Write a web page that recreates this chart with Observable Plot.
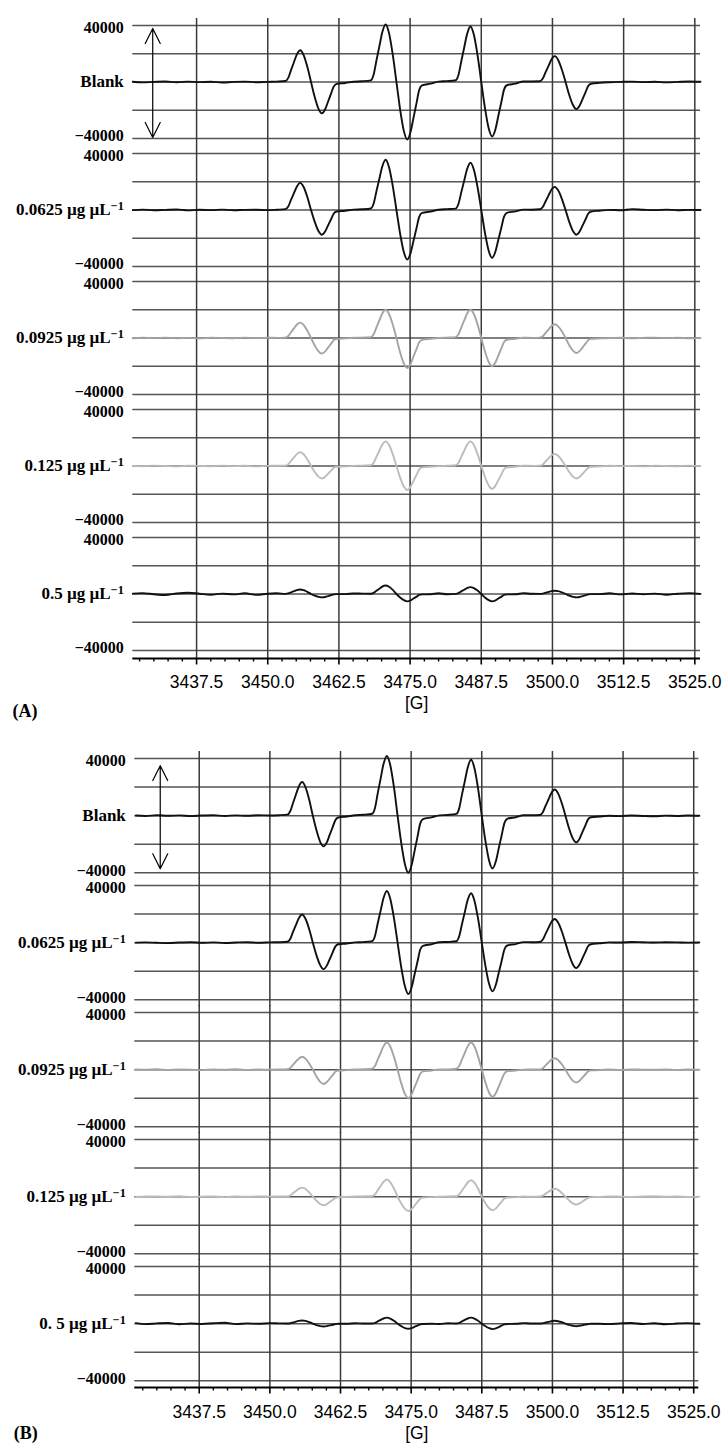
<!DOCTYPE html>
<html>
<head>
<meta charset="utf-8">
<script src="https://cdn.jsdelivr.net/npm/d3@7"></script>
<script src="https://cdn.jsdelivr.net/npm/@observablehq/plot@0.6"></script>
<style>
  html, body { margin: 0; padding: 0; background: #fff; }
  #chart { width: 725px; }
  #chart svg { display: block; }
</style>
</head>
<body>
<div id="chart"></div>
<script>
// ---------- magnetic field grid [G] (shared by all spectra) ----------
const field = [
  3426.3, 3428, 3430, 3432, 3434, 3436, 3438, 3440, 3442, 3444, 3446, 3448, 3450,
  3451.6, 3453.1, 3453.6, 3454.1, 3454.6, 3455.1, 3455.7, 3456.3, 3456.95, 3457.6, 3458.25, 3458.9, 3459.5, 3460.1, 3460.6, 3461.1, 3461.6, 3462.1, 3463.6,
  3465.1,
  3466.6, 3468.1, 3468.6, 3469.1, 3469.6, 3470.1, 3470.7, 3471.3, 3471.95, 3472.6, 3473.25, 3473.9, 3474.5, 3475.1, 3475.6, 3476.1, 3476.6, 3477.1, 3478.6,
  3480,
  3481.5, 3483, 3483.5, 3484, 3484.5, 3485, 3485.6, 3486.2, 3486.85, 3487.5, 3488.15, 3488.8, 3489.4, 3490, 3490.5, 3491, 3491.5, 3492, 3493.5,
  3494.9,
  3496.3, 3497.8, 3498.3, 3498.8, 3499.3, 3499.8, 3500.4, 3501, 3501.65, 3502.3, 3502.95, 3503.6, 3504.2, 3504.8, 3505.3, 3505.8, 3506.3, 3506.8, 3508.3,
  3510, 3512, 3514, 3516, 3518, 3520, 3522, 3524, 3526
];

// ---------- panel (A) intensities ----------
const blankA = [
  200, -300, 100, 400, -200, 300, -100, 200, -400, 100, 300, -200, 100,
  300, 700, 2900, 8600, 14000, 19400, 22500, 19100, 10800, 0, -10700, -18900, -22200, -19100, -13800, -8400, -3100, -1300, -700,
  200,
  500, 1200, 5300, 15500, 25200, 35000, 40700, 34600, 19500, 0, -19500, -34600, -40700, -35000, -25200, -15500, -5700, -2400, -1200,
  300,
  600, 1200, 5100, 14900, 24400, 33800, 39300, 33400, 18900, 0, -18500, -32800, -38600, -33200, -23900, -14700, -5400, -2300, -1200,
  400,
  400, 500, 2400, 7000, 11300, 15700, 18300, 15600, 8800, 0, -9200, -16300, -19200, -16500, -11900, -7300, -2700, -1200, -600,
  -200, 100, 300, -100, 200, -300, 100, 400, 200
];
const c0625A = [
  -100, 300, -200, 100, 400, -300, 200, -100, 300, -200, 100, 200, -100,
  200, 600, 2500, 7300, 11900, 16500, 19200, 16300, 9200, 0, -8400, -14900, -17500, -15100, -10900, -6700, -2500, -1100, -500,
  300,
  500, 1100, 4600, 13500, 22100, 30600, 35600, 30300, 17100, 0, -16800, -29800, -35100, -30200, -21800, -13300, -4900, -2100, -1100,
  200,
  600, 1000, 4400, 12700, 20800, 28800, 33500, 28500, 16100, 0, -16300, -28800, -33900, -29200, -21000, -12900, -4700, -2000, -1000,
  300,
  200, 500, 2100, 6200, 10200, 14100, 16400, 13900, 7900, 0, -8400, -14900, -17500, -15100, -10900, -6700, -2500, -1100, -500,
  100, -200, 600, 200, -100, 300, -200, 100, 0
];
const c0925A = [
  -300, 200, -100, 300, -200, 100, -300, 200, 0, -200, 300, -100, 200,
  100, 300, 1400, 4100, 6800, 9400, 10900, 9300, 5200, 0, -5300, -9400, -11000, -9500, -6800, -4200, -1500, -700, -300,
  200,
  300, 600, 2600, 7600, 12400, 17200, 20000, 17000, 9600, 0, -10200, -18000, -21200, -18200, -13100, -8100, -3000, -1300, -600,
  0,
  300, 600, 2600, 7600, 12400, 17200, 20000, 17000, 9600, 0, -9600, -17000, -20000, -17200, -12400, -7600, -2800, -1200, -600,
  200,
  100, 300, 1300, 3700, 6000, 8300, 9700, 8200, 4700, 0, -5100, -9000, -10600, -9100, -6600, -4000, -1500, -600, -300,
  -100, 200, -200, 100, 300, -100, 200, -200, 100
];
const c125A = [
  100, -200, 300, 0, -300, 200, 100, -200, 300, -100, 200, -300, 100,
  200, 300, 1300, 3700, 6100, 8400, 9800, 8300, 4700, 0, -4200, -7500, -8800, -7600, -5500, -3300, -1200, -500, -300,
  100,
  300, 500, 2300, 6600, 10800, 15000, 17400, 14800, 8400, 0, -8200, -14500, -17000, -14600, -10500, -6500, -2400, -1000, -500,
  -100,
  200, 500, 2300, 6600, 10800, 15000, 17400, 14800, 8400, 0, -7800, -13800, -16200, -13900, -10000, -6200, -2300, -1000, -500,
  200,
  100, 300, 1100, 3300, 5300, 7400, 8600, 7300, 4100, 0, -4200, -7500, -8800, -7600, -5500, -3300, -1200, -500, -300,
  200, -100, 100, -300, 200, 0, -200, 300, -100
];
const c5A = [
  300, 600, -200, -700, 400, 900, 200, -500, 300, -300, 500, -600, 200,
  500, 100, 400, 1200, 2000, 2800, 3200, 2700, 1500, 0, -1200, -2000, -2400, -2100, -1500, -900, -300, -100, -100,
  400,
  300, 200, 800, 2300, 3700, 5200, 6000, 5100, 2900, 0, -2500, -4400, -5200, -4500, -3200, -2000, -700, -300, -200,
  500,
  -200, 100, 600, 1900, 3000, 4200, 4900, 4200, 2400, 0, -2500, -4400, -5200, -4500, -3200, -2000, -700, -300, -200,
  600,
  200, 100, 300, 900, 1400, 2000, 2300, 2000, 1100, 0, -1200, -2000, -2400, -2100, -1500, -900, -300, -100, -100,
  500, -300, 400, -200, 300, -500, 200, 600, 100
];

// ---------- panel (B) intensities ----------
const blankB = [
  100, -200, 300, -100, 200, -300, 100, 300, -200, 200, -100, 300, 100,
  300, 700, 3100, 8900, 14600, 20200, 23500, 20000, 11300, 0, -10300, -18300, -21500, -18500, -13300, -8200, -3000, -1300, -600,
  300,
  600, 1300, 5400, 15900, 25900, 35900, 41800, 35500, 20100, 0, -19200, -34000, -40000, -34400, -24800, -15200, -5600, -2400, -1200,
  200,
  500, 1200, 5100, 14900, 24200, 33600, 39100, 33200, 18800, 0, -17800, -31500, -37000, -31800, -22900, -14100, -5200, -2200, -1100,
  300,
  300, 500, 2400, 7000, 11300, 15700, 18300, 15600, 8800, 0, -9000, -15900, -18700, -16100, -11600, -7100, -2600, -1100, -600,
  -100, -300, 100, -200, -400, 0, -200, 100, -100
];
const c0625B = [
  0, 200, -100, -300, 100, 300, -100, 200, -200, 100, 300, -100, 200,
  300, 600, 2600, 7500, 12200, 16900, 19700, 16700, 9500, 0, -8900, -15700, -18500, -15900, -11500, -7000, -2600, -1100, -600,
  200,
  400, 1100, 4700, 13800, 22400, 31100, 36200, 30800, 17400, 0, -17300, -30600, -36000, -31000, -22300, -13700, -5000, -2200, -1100,
  300,
  500, 1000, 4500, 13100, 21500, 29800, 34600, 29400, 16600, 0, -16400, -29000, -34100, -29300, -21100, -13000, -4800, -2000, -1000,
  400,
  300, 500, 2200, 6300, 10300, 14300, 16600, 14100, 8000, 0, -8500, -15100, -17800, -15300, -11000, -6800, -2500, -1100, -500,
  200, 100, 500, 300, 100, 300, 200, 0, 100
];
const c0925B = [
  200, -100, 300, -200, 100, 0, -300, 200, -100, 300, -200, 100, 0,
  100, 300, 1200, 3400, 5600, 7700, 9000, 7700, 4300, 0, -4800, -8500, -10000, -8600, -6200, -3800, -1400, -600, -300,
  100,
  300, 600, 2500, 7200, 11800, 16300, 19000, 16200, 9100, 0, -9600, -17000, -20000, -17200, -12400, -7600, -2800, -1200, -600,
  200,
  200, 600, 2500, 7200, 11800, 16300, 19000, 16200, 9100, 0, -9100, -16200, -19000, -16300, -11800, -7200, -2700, -1100, -600,
  0,
  100, 200, 1000, 3000, 5000, 6900, 8000, 6800, 3800, 0, -4300, -7700, -9000, -7700, -5600, -3400, -1300, -500, -300,
  100, -200, 200, 0, -100, 200, -200, 100, -100
];
const c125B = [
  -200, 100, 200, -100, 300, -200, 0, 200, -300, 100, -100, 200, 0,
  100, 200, 800, 2400, 3900, 5400, 6300, 5400, 3000, 0, -2900, -5100, -6000, -5200, -3700, -2300, -800, -400, -200,
  100,
  200, 400, 1600, 4600, 7400, 10300, 12000, 10200, 5800, 0, -4800, -8500, -10000, -8600, -6200, -3800, -1400, -600, -300,
  -100,
  200, 300, 1500, 4400, 7100, 9900, 11500, 9800, 5500, 0, -4600, -8100, -9500, -8200, -5900, -3600, -1300, -600, -300,
  100,
  0, 200, 700, 2100, 3400, 4700, 5500, 4700, 2600, 0, -2600, -4700, -5500, -4700, -3400, -2100, -800, -300, -200,
  200, 0, -200, 100, 300, -100, 100, -200, 0
];
const c5B = [
  400, -300, 200, 500, -400, 100, -200, 300, 600, -300, 200, -100, 400,
  200, 100, 300, 800, 1400, 1900, 2200, 1900, 1100, 0, -1000, -1700, -2000, -1700, -1200, -800, -300, -100, -100,
  300,
  100, 100, 500, 1600, 2600, 3600, 4200, 3600, 2000, 0, -1700, -3100, -3600, -3100, -2200, -1400, -500, -200, -100,
  -200,
  300, 100, 500, 1600, 2600, 3600, 4200, 3600, 2000, 0, -1800, -3200, -3800, -3300, -2400, -1400, -500, -200, -100,
  400,
  100, 100, 300, 800, 1200, 1700, 2000, 1700, 1000, 0, -900, -1500, -1800, -1500, -1100, -700, -300, -100, -100,
  -300, 200, 500, -200, 300, -400, 100, 400, -100
];

// ---------- labels, ticks, colours ----------
const labelsA = ["Blank", "0.0625 µg µL⁻¹", "0.0925 µg µL⁻¹", "0.125 µg µL⁻¹", "0.5 µg µL⁻¹"];
const labelsB = ["Blank", "0.0625 µg µL⁻¹", "0.0925 µg µL⁻¹", "0.125 µg µL⁻¹", "0. 5 µg µL⁻¹"];
const traceColors = ["#111111", "#111111", "#a4a4a4", "#bcbcbc", "#111111"];
const majorTicks = [3437.5, 3450, 3462.5, 3475, 3487.5, 3500, 3512.5, 3525];
const minorTicks = [3427.5, 3430, 3432.5, 3435, 3440, 3442.5, 3445, 3447.5, 3452.5, 3455, 3457.5, 3460,
  3465, 3467.5, 3470, 3472.5, 3477.5, 3480, 3482.5, 3485, 3490, 3492.5, 3495, 3497.5,
  3502.5, 3505, 3507.5, 3510, 3515, 3517.5, 3520, 3522.5];
const gridLevels = [-40000, -20000, 0, 20000, 40000];
const yTopTick = [40000];
const yBottomTick = [-40000];
const unitLabel = "[G]";

// ---------- double arrow marking the intensity span (in the Blank strip) ----------
const arrowA = [{series: "Blank", field: 3429.8, from: 0, to: 37900}, {series: "Blank", field: 3429.8, from: 0, to: -39300}];
const arrowB = [{series: "Blank", field: 3430.6, from: 0, to: 35000}, {series: "Blank", field: 3430.6, from: 0, to: -37200}];

const serif = "'Liberation Serif', 'Times New Roman', serif";
const sans = "'Liberation Sans', Arial, sans-serif";
const fmtY = d => (d < 0 ? "\u2212" : "") + Math.abs(d);

function buildPanel(cfg) {
  const {labels, values, arrows, tag, svgH, top, stripH, period, axisGap, left, right, domain, tickPad, unitDy, tagDx, tagDy} = cfg;
  values.forEach((v, i) => { if (v.length !== field.length) throw new Error(tag + " series " + i + " has " + v.length + " values"); });
  const rows = [];
  labels.forEach((s, i) => field.forEach((f, j) => rows.push({field: f, value: values[i][j], series: s, color: traceColors[i]})));
  const bandH = stripH + axisGap;
  const gap = period - bandH;
  const last = labels[labels.length - 1];
  const bottom = top + 4 * period + bandH;
  const yLabelStyle = {tickSize: 0, tickPadding: 9, tickFormat: fmtY, fontFamily: serif, fontWeight: "bold", fontSize: 16, label: null};
  const svg = Plot.plot({
    width: 725,
    height: svgH,
    marginTop: top,
    marginBottom: svgH - bottom,
    marginLeft: left,
    marginRight: 725 - right,
    style: {fontFamily: sans, fontSize: "17.5px", background: "#fff", color: "#000", overflow: "visible"},
    x: {domain, label: null},
    y: {domain: [-40000, 40000], insetBottom: axisGap, label: null},
    fy: {domain: labels, paddingInner: gap / period, paddingOuter: 0, axis: null, label: null},
    marks: [
      Plot.ruleY(gridLevels, {stroke: "#555555", strokeWidth: 1.5}),
      Plot.ruleX(majorTicks, {stroke: "#3a3a3a", strokeWidth: 1.5, insetTop: -7}),
      Plot.line(rows, {x: "field", y: "value", fy: "series", z: "series", stroke: "color", strokeWidth: 1.9, curve: "monotone-x"}),
      Plot.arrow(arrows, {x1: "field", x2: "field", y1: "from", y2: "to", fy: "series", stroke: "#000", strokeWidth: 1.2, headLength: 21, headAngle: 53}),
      Plot.axisY(yTopTick, {...yLabelStyle, dy: 2.2}),
      Plot.axisY(yBottomTick, {...yLabelStyle, dy: -2.2}),
      Plot.text(labels, {fy: d => d, y: () => 0, text: d => d, frameAnchor: "left", dx: -9, textAnchor: "end", fontFamily: serif, fontWeight: "bold", fontSize: 17}),
      Plot.ruleY([{s: last, v: -40000}], {fy: "s", y: "v", dy: axisGap, stroke: "#000", strokeWidth: 2}),
      Plot.axisX(minorTicks, {tickSize: 3.5, tickFormat: () => "", strokeWidth: 1.4, label: null}),
      Plot.axisX(majorTicks, {tickSize: 6.5, tickPadding: tickPad, tickFormat: d => d.toFixed(1), strokeWidth: 1.6, fontSize: 17.5, label: null}),
      Plot.text([last], {fy: d => d, frameAnchor: "bottom", dy: unitDy, text: () => unitLabel, fontSize: 17.5}),
      Plot.text([last], {fy: d => d, frameAnchor: "bottom-left", dx: tagDx, dy: tagDy, textAnchor: "start", text: () => tag, fontFamily: serif, fontWeight: "bold", fontSize: 18})
    ]
  });
  // real superscript for the unit exponent
  svg.querySelectorAll("text").forEach(t => {
    const s = t.textContent;
    if (t.children.length === 0 && s.endsWith("⁻¹")) {
      t.textContent = s.slice(0, -2);
      const sup = document.createElementNS("http://www.w3.org/2000/svg", "tspan");
      sup.setAttribute("dy", "-0.42em");
      sup.setAttribute("font-size", "0.72em");
      sup.textContent = "\u22121";
      t.appendChild(sup);
    }
  });
  return svg;
}

const chart = document.getElementById("chart");
chart.appendChild(buildPanel({
  labels: labelsA, values: [blankA, c0625A, c0925A, c125A, c5A], arrows: arrowA, tag: "(A)",
  svgH: 720, top: 24, stripH: 114, period: 128.6, axisGap: 8,
  left: 132.3, right: 700, domain: [3426.3, 3526],
  tickPad: 10.5, unitDy: 50, tagDy: 58, tagDx: -120.3
}));
chart.appendChild(buildPanel({
  labels: labelsB, values: [blankB, c0625B, c0925B, c125B, c5B], arrows: arrowB, tag: "(B)",
  svgH: 727, top: 37.7, stripH: 114.5, period: 127.2, axisGap: 6.7,
  left: 134.3, right: 698.3, domain: [3426.1, 3525.9],
  tickPad: 11.5, unitDy: 51, tagDy: 51.5, tagDx: -121
}));
</script>
</body>
</html>
